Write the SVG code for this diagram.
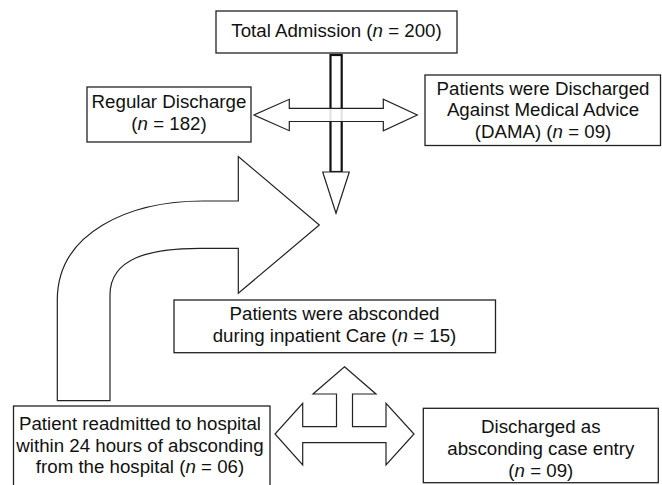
<svg xmlns="http://www.w3.org/2000/svg" width="662" height="485" viewBox="0 0 662 485">
<style>
.box{fill:#fff;stroke:#222;stroke-width:1.3}
.arr{fill:#fff;stroke:#222;stroke-width:1.2;stroke-linejoin:miter}
.shaft{fill:#fff;stroke:#111;stroke-width:2.2}
text{font-family:"Liberation Sans",Arial,sans-serif;font-size:18.7px;fill:#111;text-anchor:middle}
.it{font-style:italic}
</style>
<rect width="662" height="485" fill="#fff"/>
<g id="connectors">
  <path id="curved-arrow" class="arr" d="M57.3,400.7 L57.3,300 C57.3,232 130,201 203,201 L238.3,201 L238.3,156.5 L319.3,225 L238.3,293.3 L238.3,248.3 L200,248.3 C150,248.3 110,258 110,295 L110,400.7 Z"/>
  <rect id="down-shaft" class="shaft" x="330.5" y="55" width="11.2" height="117"/>
  <polygon id="down-head" class="arr" points="322.7,172 349.3,172 336,213.3"/>
  <polygon id="lr-arrow" class="arr" fill-opacity="0.88" points="254,115 289.3,99.3 289.3,108.3 383.3,108.3 383.3,99.3 417.3,115 383.3,130.7 383.3,121.5 289.3,121.5 289.3,130.7"/>
  <polygon id="three-way-arrow" class="arr" points="344.5,366.7 376,394 352.5,394 352.5,426.7 386,426.7 386,403.3 414,434 386,465 386,442.7 302.7,442.7 302.7,465 275,434 302.7,403.3 302.7,426.7 336.5,426.7 336.5,394 313,394"/>
</g>
<g id="total-admission">
  <rect class="box" x="216" y="11" width="241" height="42"/>
  <text x="336.5" y="36.5">Total Admission (<tspan class="it">n</tspan> = 200)</text>
</g>
<g id="regular-discharge">
  <rect class="box" x="87" y="87" width="164" height="55"/>
  <text x="169" y="107.5">Regular Discharge</text>
  <text x="169" y="130">(<tspan class="it">n</tspan> = 182)</text>
</g>
<g id="dama">
  <rect class="box" x="425" y="75" width="235.5" height="70.5"/>
  <text x="543" y="94.5">Patients were Discharged</text>
  <text x="543" y="116">Against Medical Advice</text>
  <text x="543" y="137.5">(DAMA) (<tspan class="it">n</tspan> = 09)</text>
</g>
<g id="absconded">
  <rect class="box" x="174" y="300" width="321.5" height="52.7"/>
  <text x="334.5" y="320">Patients were absconded</text>
  <text x="334.5" y="341.7">during inpatient Care (<tspan class="it">n</tspan> = 15)</text>
</g>
<g id="readmitted">
  <rect class="box" x="13.5" y="406" width="256.5" height="90"/>
  <text x="140" y="430">Patient readmitted to hospital</text>
  <text x="140" y="451.5">within 24 hours of absconding</text>
  <text x="140" y="473">from the hospital (<tspan class="it">n</tspan> = 06)</text>
</g>
<g id="discharged-absconding">
  <rect class="box" x="423.3" y="408.3" width="235" height="74.4"/>
  <text x="540.8" y="433.3">Discharged as</text>
  <text x="540.8" y="455">absconding case entry</text>
  <text x="540.8" y="476.5">(<tspan class="it">n</tspan> = 09)</text>
</g>
</svg>
